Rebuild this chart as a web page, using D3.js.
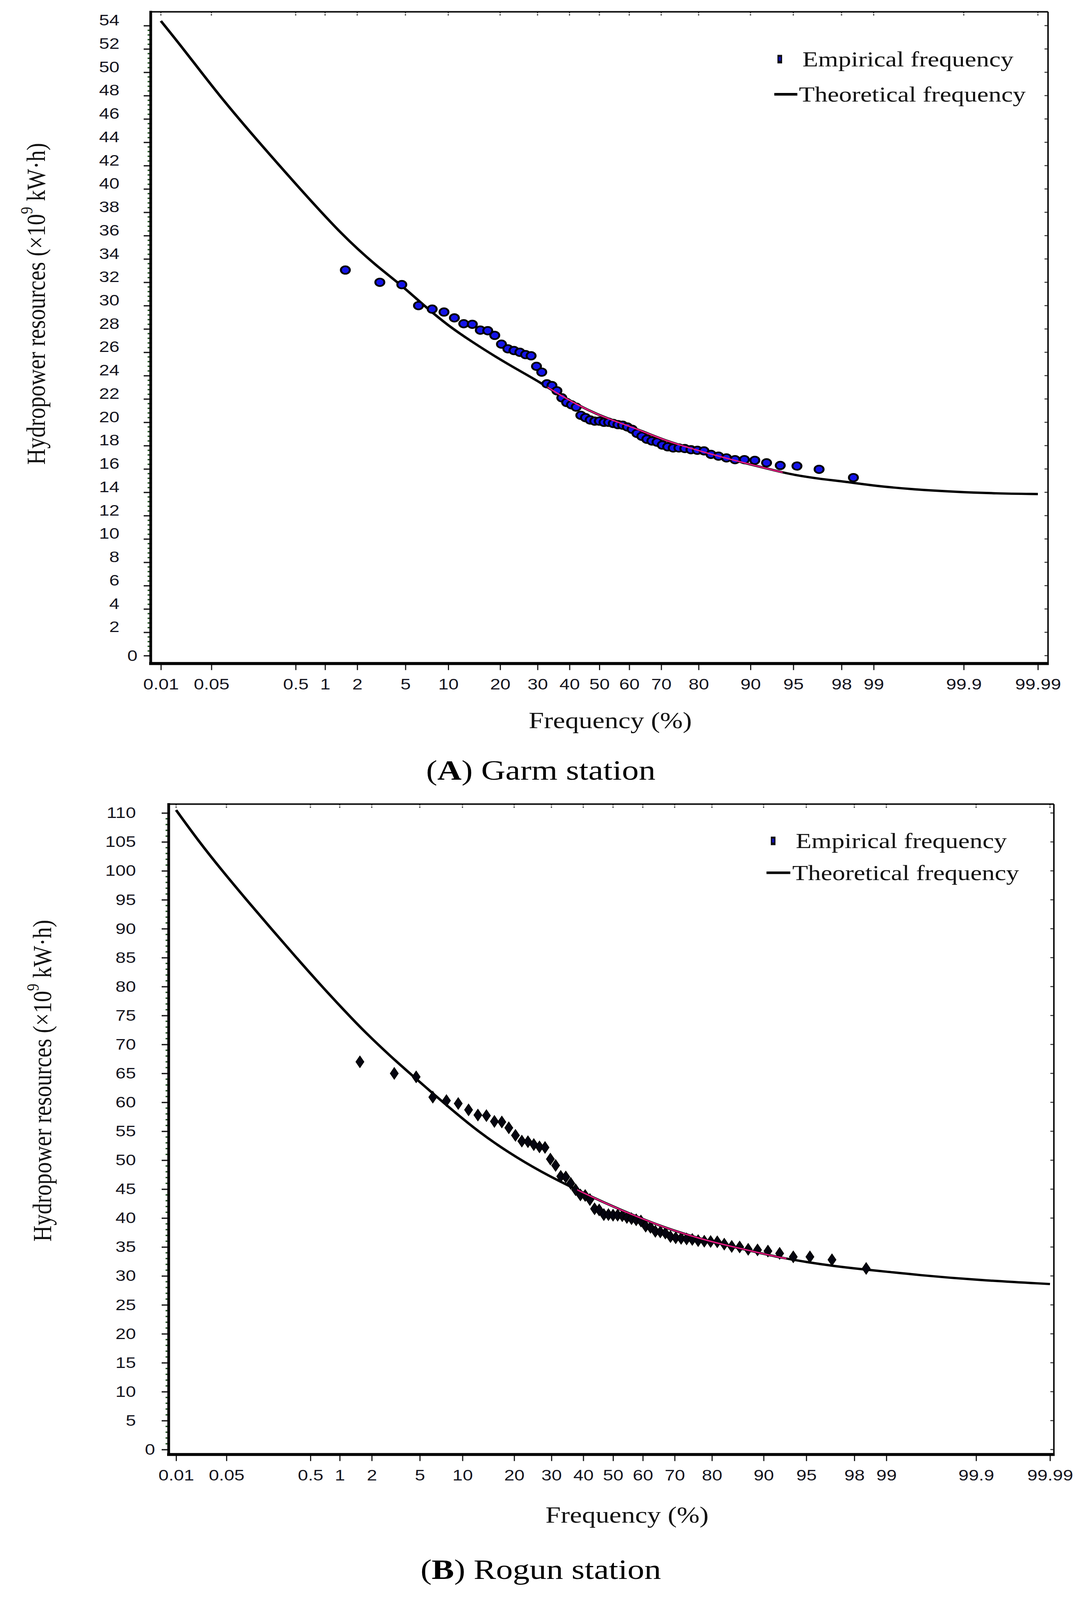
<!DOCTYPE html>
<html>
<head>
<meta charset="utf-8">
<script src="https://cdn.jsdelivr.net/npm/d3@7"></script>
<style>
  html, body { margin: 0; padding: 0; background: #fff; width: 100%; height: 100%; overflow: hidden; }
  svg { display: block; width: 100vw; height: 100vh; }
</style>
</head>
<body>
<svg id="chart" viewBox="0 0 2771 4871" preserveAspectRatio="none"></svg>
<script>
// ---------------- DATA ----------------
// Plotting-position frequencies (%) of the 63 empirical points (read from the x positions)
const empFreq = [1.56, 3.13, 4.69, 6.25, 7.81, 9.38, 10.94, 12.5, 14.06, 15.63,
  17.19, 18.75, 20.31, 21.88, 23.44, 25, 26.56, 28.13, 29.69, 31.25,
  32.81, 34.38, 35.94, 37.5, 39.06, 40.63, 42.19, 43.75, 45.31, 46.88,
  48.44, 50, 51.56, 53.13, 54.69, 56.25, 57.81, 59.38, 60.94, 62.5,
  64.06, 65.63, 67.19, 68.75, 70.31, 71.88, 73.44, 75, 76.56, 78.13,
  79.69, 81.25, 82.81, 84.38, 85.94, 87.5, 89.06, 90.63, 92.19, 93.75,
  95.31, 96.88, 98.44];

// (A) Garm station – empirical values
const garmEmp = [33.05, 32.0, 31.8, 30.0, 29.7, 29.45, 28.95, 28.45, 28.4, 27.9,
  27.85, 27.45, 26.7, 26.3, 26.15, 26.0, 25.8, 25.7, 24.8, 24.3,
  23.3, 23.15, 22.7, 22.1, 21.7, 21.5, 21.3, 20.6, 20.4, 20.2,
  20.1, 20.1, 20.0, 20.0, 19.9, 19.8, 19.75, 19.6, 19.4, 19.05,
  18.8, 18.55, 18.4, 18.3, 18.05, 17.9, 17.8, 17.8, 17.75, 17.65,
  17.6, 17.55, 17.25, 17.1, 16.95, 16.8, 16.8, 16.74, 16.53, 16.3,
  16.25, 15.97, 15.26];
// (A) Garm station – theoretical curve
const garmTheoFreq = [0.01, 0.021, 0.063, 0.194, 0.557, 1.47, 2.93, 4.61, 6.85, 9.94,
  14.0, 19.0, 25.0, 30.9, 36.5, 43.3, 50.0, 57.4, 64.2, 70.5,
  78.7, 85.2, 89.9, 93.5, 95.0, 96.8, 98.2, 99.0, 99.62, 99.87, 99.962, 99.99];
const garmTheoVal = [54.4, 52.0, 48.0, 44.0, 40.0, 36.0, 33.4, 31.8, 30.0, 28.3,
  26.9, 25.6, 24.4, 23.4, 22.4, 21.4, 20.6, 19.9, 19.25, 18.5,
  17.7, 17.0, 16.4, 15.8, 15.5, 15.17, 14.9, 14.56, 14.24, 14.04, 13.9, 13.85];

// (B) Rogun station – empirical values
const rogunEmp = [67.0, 65.0, 64.4, 60.9, 60.3, 59.8, 58.7, 57.8, 57.7, 56.7,
  56.6, 55.6, 54.3, 53.3, 53.2, 52.7, 52.3, 52.2, 50.2, 49.1,
  47.2, 47.1, 46.0, 44.9, 44.0, 43.9, 43.2, 41.6, 41.4, 40.6,
  40.6, 40.5, 40.5, 40.4, 40.1, 39.9, 39.7, 39.5, 38.6, 38.4,
  37.7, 37.6, 37.4, 36.8, 36.6, 36.5, 36.4, 36.3, 36.1, 36.0,
  35.95, 35.9, 35.5, 35.1, 35.0, 34.6, 34.5, 34.3, 33.9, 33.3,
  33.3, 32.8, 31.3];
// (B) Rogun station – theoretical curve
const rogunTheoFreq = [0.01, 0.0208, 0.0434, 0.0904, 0.181, 0.347, 0.63, 1.116, 1.72, 3.0,
  4.56, 6.28, 8.8, 12.5, 18.5, 27.2, 37.8, 48.6, 56.8, 66.7,
  75.2, 81.5, 90.1, 92.4, 95, 97, 98.4, 99, 99.5, 99.9, 99.99];
const rogunTheoVal = [110.5, 105.2, 100.1, 95.0, 90.0, 85.1, 80.4, 75.8, 72.2, 67.7,
  64.3, 61.5, 58.4, 55.0, 51.4, 47.9, 44.9, 42.3, 40.5, 38.4,
  36.8, 35.6, 33.8, 33.15, 32.4, 31.7, 31.1, 30.75, 30.2, 29.3, 28.6];

// Tick labels
const xTickValues = [0.01, 0.05, 0.5, 1, 2, 5, 10, 20, 30, 40, 50, 60, 70, 80, 90, 95, 98, 99, 99.9, 99.99];
const xTickLabels = ["0.01", "0.05", "0.5", "1", "2", "5", "10", "20", "30", "40", "50", "60", "70", "80", "90", "95", "98", "99", "99.9", "99.99"];
const garmYTicks = [0, 2, 4, 6, 8, 10, 12, 14, 16, 18, 20, 22, 24, 26, 28, 30, 32, 34, 36, 38, 40, 42, 44, 46, 48, 50, 52, 54];
const rogunYTicks = [0, 5, 10, 15, 20, 25, 30, 35, 40, 45, 50, 55, 60, 65, 70, 75, 80, 85, 90, 95, 100, 105, 110];

// ---------------- HELPERS ----------------
// inverse standard normal CDF (probability-paper axis transform)
function probit(p) {
  const a = [-3.969683028665376e+01, 2.209460984245205e+02, -2.759285104469687e+02, 1.383577518672690e+02, -3.066479806614716e+01, 2.506628277459239e+00];
  const b = [-5.447609879822406e+01, 1.615858368580409e+02, -1.556989798598866e+02, 6.680131188771972e+01, -1.328068155288572e+01];
  const c = [-7.784894002430293e-03, -3.223964580411365e-01, -2.400758277161838e+00, -2.549732539343734e+00, 4.374664141464968e+00, 2.938163982698783e+00];
  const d = [7.784695709041462e-03, 3.224671290700398e-01, 2.445134137142996e+00, 3.754408661907416e+00];
  const pl = 0.02425, ph = 1 - pl;
  let q, r;
  if (p < pl) {
    q = Math.sqrt(-2 * Math.log(p));
    return (((((c[0]*q+c[1])*q+c[2])*q+c[3])*q+c[4])*q+c[5]) / ((((d[0]*q+d[1])*q+d[2])*q+d[3])*q+1);
  }
  if (p <= ph) {
    q = p - 0.5; r = q*q;
    return (((((a[0]*r+a[1])*r+a[2])*r+a[3])*r+a[4])*r+a[5])*q / (((((b[0]*r+b[1])*r+b[2])*r+b[3])*r+b[4])*r+1);
  }
  q = Math.sqrt(-2 * Math.log(1 - p));
  return -(((((c[0]*q+c[1])*q+c[2])*q+c[3])*q+c[4])*q+c[5]) / ((((d[0]*q+d[1])*q+d[2])*q+d[3])*q+1);
}

const svg = d3.select("#chart");
const SANS = "'Liberation Sans', Arial, sans-serif";
const SERIF = "'Liberation Serif', 'Times New Roman', serif";

function drawPanel(cfg) {
  const g = svg.append("g");
  const L = cfg.frame;
  const zScale = d3.scaleLinear()
    .domain([probit(0.0001), probit(0.9999)])
    .range(cfg.xRange);
  const fx = p => zScale(probit(p / 100));
  const y = d3.scaleLinear().domain(cfg.yDomain).range(cfg.yRange);

  // top-frame ticks (inward)
  g.append("g").selectAll("line").data(xTickValues).join("line")
    .attr("x1", d => fx(d)).attr("x2", d => fx(d))
    .attr("y1", L.top).attr("y2", L.top + 14)
    .attr("stroke", "#222").attr("stroke-width", 3).attr("stroke-dasharray", "4,3");

  // right-frame ticks (inward)
  g.append("g").selectAll("line").data(cfg.yTicks).join("line")
    .attr("x1", L.right).attr("x2", L.right - 9)
    .attr("y1", d => y(d)).attr("y2", d => y(d))
    .attr("stroke", "#333").attr("stroke-width", 3);

  // minor y ticks
  const minor = d3.range(cfg.yDomain[0], cfg.yDomain[1] + 1e-9, cfg.minorStep)
    .filter(v => !cfg.yTicks.some(t => Math.abs(t - v) < 1e-6));
  g.append("g").selectAll("line").data(minor).join("line")
    .attr("x1", L.left - 8).attr("x2", L.left)
    .attr("y1", d => y(d)).attr("y2", d => y(d))
    .attr("stroke", "#1e4f1e").attr("stroke-width", 4);

  // y axis (major ticks + labels)
  const yAxis = d3.axisLeft(y).tickValues(cfg.yTicks).tickSize(18)
    .tickPadding(cfg.yPad).tickFormat(d3.format("d"));
  const ya = g.append("g").attr("transform", `translate(${L.left},0)`).call(yAxis);
  ya.select(".domain").remove();
  ya.selectAll(".tick line").attr("stroke", "#1a1a1a").attr("stroke-width", 4);
  ya.selectAll(".tick text")
    .attr("font-family", SANS).attr("font-size", 47).attr("fill", "#151520")
    .attr("y", d => d === 0 ? 0 : cfg.yLabelShift)
    .attr("x", d => d === 0 ? cfg.zeroLabelX : -(18 + cfg.yPad));

  // x axis
  const xAxis = d3.axisBottom(zScale)
    .tickValues(xTickValues.map(p => probit(p / 100)))
    .tickFormat((d, i) => xTickLabels[i])
    .tickSize(24).tickPadding(26);
  const xa = g.append("g").attr("transform", `translate(0,${L.bottom - 4})`).call(xAxis);
  xa.select(".domain").remove();
  xa.selectAll(".tick line").attr("stroke", "#1a1a1a").attr("stroke-width", 3);
  xa.selectAll(".tick text")
    .attr("font-family", SANS).attr("font-size", 47).attr("fill", "#151520");

  // frame
  g.append("line").attr("x1", L.left).attr("x2", L.right).attr("y1", L.top).attr("y2", L.top)
    .attr("stroke", "#111").attr("stroke-width", 5);
  g.append("line").attr("x1", L.right).attr("x2", L.right).attr("y1", L.top).attr("y2", L.bottom)
    .attr("stroke", "#111").attr("stroke-width", 4);
  g.append("line").attr("x1", L.left).attr("x2", L.left).attr("y1", L.top - 3).attr("y2", L.bottom + 4)
    .attr("stroke", "#000").attr("stroke-width", 7);
  g.append("line").attr("x1", L.left - 4).attr("x2", L.right + 2).attr("y1", L.bottom).attr("y2", L.bottom)
    .attr("stroke", "#000").attr("stroke-width", 9);

  // theoretical curve
  const theo = cfg.theoFreq.map((f, i) => [f, cfg.theoVal[i]]);
  const line = d3.line().x(d => fx(d[0])).y(d => y(d[1])).curve(d3.curveBasis);
  g.append("path").datum(theo).attr("d", line)
    .attr("fill", "none").attr("stroke", "#000").attr("stroke-width", 7);

  // empirical points
  const emp = empFreq.map((f, i) => [f, cfg.emp[i]]);
  if (cfg.marker === "circle") {
    g.append("g").selectAll("circle").data(emp).join("circle")
      .attr("cx", d => fx(d[0])).attr("cy", d => y(d[1])).attr("r", 11.5)
      .attr("fill", "#1414e8").attr("stroke", "#000").attr("stroke-width", 5);
  } else {
    const sym = d3.symbol().type(d3.symbolDiamond).size(360);
    g.append("g").selectAll("path").data(emp).join("path")
      .attr("transform", d => `translate(${fx(d[0])},${y(d[1])})`)
      .attr("d", sym).attr("fill", "#050510").attr("stroke", "#000").attr("stroke-width", 2);
  }

  // pink overlay where the fitted curve runs through the point cloud
  const clipId = "clip" + cfg.id;
  svg.append("defs").append("clipPath").attr("id", clipId)
    .append("rect").attr("x", fx(cfg.pink[0])).attr("width", fx(cfg.pink[1]) - fx(cfg.pink[0]))
    .attr("y", L.top).attr("height", L.bottom - L.top);
  g.append("path").datum(theo).attr("d", line).attr("clip-path", `url(#${clipId})`)
    .attr("fill", "none").attr("stroke", "#ec1a84").attr("stroke-width", 4);

  // legend
  const lg = cfg.legend;
  g.append("rect").attr("x", lg.mx - 6).attr("y", lg.my - 13).attr("width", 12).attr("height", 26)
    .attr("fill", "#111");
  g.append("rect").attr("x", lg.mx - 3).attr("y", lg.my - 7).attr("width", 6).attr("height", 12)
    .attr("fill", "#1010b0");
  g.append("text").attr("x", lg.tx1).attr("y", lg.my).attr("dominant-baseline", "central")
    .attr("font-family", SERIF).attr("font-size", 66).attr("fill", "#111")
    .text("Empirical frequency");
  g.append("line").attr("x1", lg.lx1).attr("x2", lg.lx2).attr("y1", lg.ly).attr("y2", lg.ly)
    .attr("stroke", "#000").attr("stroke-width", 8);
  g.append("text").attr("x", lg.tx2).attr("y", lg.ly).attr("dominant-baseline", "central")
    .attr("font-family", SERIF).attr("font-size", 66).attr("fill", "#111")
    .text("Theoretical frequency");

  // axis titles
  g.append("text").attr("x", cfg.xTitle[0]).attr("y", cfg.xTitle[1])
    .attr("text-anchor", "middle").attr("dominant-baseline", "central")
    .attr("font-family", SERIF).attr("font-size", 70).attr("fill", "#111")
    .text("Frequency (%)");
  const yt = g.append("text")
    .attr("transform", `translate(${cfg.yTitle[0]},${cfg.yTitle[1]}) rotate(-90)`)
    .attr("text-anchor", "middle").attr("dominant-baseline", "central")
    .attr("font-family", SERIF).attr("font-size", 68).attr("fill", "#111");
  yt.append("tspan").text("Hydropower resources (×10");
  yt.append("tspan").attr("font-size", 44).attr("dy", -24).text("9");
  yt.append("tspan").attr("dy", 24).text(" kW·h)");

  // caption
  const cap = g.append("text").attr("x", cfg.caption[0]).attr("y", cfg.caption[1])
    .attr("text-anchor", "middle").attr("dominant-baseline", "central")
    .attr("font-family", SERIF).attr("font-size", 86).attr("fill", "#000");
  cap.append("tspan").text("(");
  cap.append("tspan").attr("font-weight", "bold").text(cfg.letter);
  cap.append("tspan").text(") " + cfg.station);
}

drawPanel({
  id: "A", letter: "A", station: "Garm station",
  frame: { left: 386, right: 2684, top: 36, bottom: 2020 },
  xRange: [412, 2658],
  yDomain: [0, 54], yRange: [1996, 78], yTicks: garmYTicks, minorStep: 0.4,
  yPad: 62, yLabelShift: -16, zeroLabelX: -34,
  emp: garmEmp, theoFreq: garmTheoFreq, theoVal: garmTheoVal,
  marker: "circle", pink: [33, 94],
  legend: { mx: 1997, my: 180, tx1: 2055, lx1: 1983, lx2: 2042, ly: 287, tx2: 2046 },
  xTitle: [1563, 2193], yTitle: [92, 925], caption: [1385, 2345]
});

drawPanel({
  id: "B", letter: "B", station: "Rogun station",
  frame: { left: 432, right: 2699, top: 2448, bottom: 4428 },
  xRange: [451, 2689],
  yDomain: [0, 110], yRange: [4413, 2475], yTicks: rogunYTicks, minorStep: 1,
  yPad: 66, yLabelShift: 0, zeroLabelX: -35,
  emp: rogunEmp, theoFreq: rogunTheoFreq, theoVal: rogunTheoVal,
  marker: "diamond", pink: [38, 93],
  legend: { mx: 1980, my: 2560, tx1: 2038, lx1: 1963, lx2: 2024, ly: 2657, tx2: 2029 },
  xTitle: [1606, 4612], yTitle: [108, 3290], caption: [1385, 4778]
});
</script>
</body>
</html>
